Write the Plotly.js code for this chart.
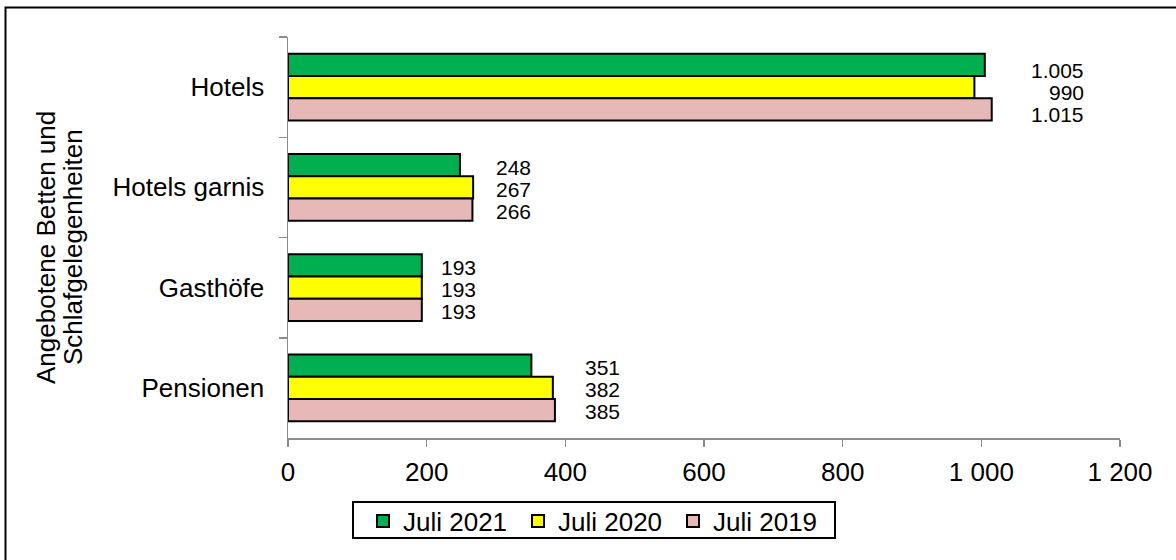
<!DOCTYPE html>
<html>
<head>
<meta charset="utf-8">
<script src="https://cdn.plot.ly/plotly-3.0.1.min.js"></script>
<style>
  html, body { margin: 0; padding: 0; background: #fff; }
  #chart { width: 1176px; height: 560px; }
</style>
</head>
<body>
<div id="chart"></div>
<script>
// ---- data ----
const categories = ["Hotels", "Hotels garnis", "Gasthöfe", "Pensionen"];
const seriesNames = ["Juli 2021", "Juli 2020", "Juli 2019"];
const juli2021 = [1005, 248, 193, 351];
const juli2020 = [990, 267, 193, 382];
const juli2019 = [1015, 266, 193, 385];
const xTickVals = [0, 200, 400, 600, 800, 1000, 1200];
const yTitleLines = ["Angebotene Betten und", "Schlafgelegenheiten"];

// ---- style ----
const colors = ["#00B050", "#FFFF00", "#E6B9B8"];
const FONT = "Liberation Sans, Arial, sans-serif";
const labelShiftX = [94, 60, 56, 67];       // px right of group max (label right edge)
const labelShiftY = [20, -2, -24];          // px per series within group
const catShiftY = [-3, 0, 0, 0];

const series = [juli2021, juli2020, juli2019];

const traces = series.map((vals, i) => ({
  type: "bar",
  orientation: "h",
  name: seriesNames[i],
  y: categories,
  x: vals,
  marker: { color: colors[i], line: { color: "#000000", width: 2 } },
  hoverinfo: "skip"
}));

function fmt(v) {
  if (v >= 1000) return Math.floor(v / 1000) + "." + String(v % 1000).padStart(3, "0");
  return String(v);
}

const annotations = [];
categories.forEach((cat, c) => {
  const gmax = Math.max(...series.map(s => s[c]));
  series.forEach((s, i) => {
    annotations.push({
      xref: "x", yref: "y",
      x: gmax, y: cat,
      xanchor: "right", yanchor: "middle",
      xshift: labelShiftX[c],
      yshift: labelShiftY[i] + catShiftY[c],
      text: fmt(s[c]),
      showarrow: false,
      font: { family: FONT, size: 21, color: "#000" }
    });
  });
});

// pixel geometry of plot area
const plotL = 288, plotW = 832, plotT = 37, plotH = 401;
const px2x = px => (px - plotL) / plotW;
const px2y = py => (plotT + plotH - py) / plotH;

// y-axis title as two annotations (tight line spacing)
const yTitleX = [46, 73];
yTitleLines.forEach((t, i) => {
  annotations.push({
    xref: "paper", yref: "paper",
    x: px2x(yTitleX[i]), y: px2y(247),
    xanchor: "center", yanchor: "middle",
    textangle: -90,
    text: t, showarrow: false,
    font: { family: FONT, size: 26, color: "#000" }
  });
});

const layout = {
  width: 1176, height: 560,
  margin: { l: plotL, r: 1176 - plotL - plotW, t: plotT, b: 560 - plotT - plotH, pad: 0 },
  paper_bgcolor: "#fff", plot_bgcolor: "#fff",
  font: { family: FONT, size: 26, color: "#000" },
  separators: ", ",
  barmode: "group",
  bargap: 0.336,
  bargroupgap: 0,
  showlegend: true,
  legend: {
    orientation: "h",
    x: px2x(363), y: px2y(521), xanchor: "left", yanchor: "middle",
    borderwidth: 0, bgcolor: "rgba(0,0,0,0)",
    font: { family: FONT, size: 26, color: "#000" },
    entrywidth: 110, entrywidthmode: "pixels",
    itemclick: false, itemdoubleclick: false
  },
  xaxis: {
    range: [0, 1200],
    tickvals: xTickVals,
    separatethousands: true,
    showgrid: false, zeroline: false,
    showline: true, linecolor: "#8C8C8C", linewidth: 1.5,
    ticks: "outside", ticklen: 7, tickwidth: 1.5, tickcolor: "#8C8C8C",
    ticklabelstandoff: 3,
    tickfont: { family: FONT, size: 26, color: "#000" },
    fixedrange: true
  },
  yaxis: {
    type: "category",
    categoryorder: "array", categoryarray: categories,
    range: [3.5, -0.5],
    showgrid: false, zeroline: false,
    showline: true, linecolor: "#8C8C8C", linewidth: 1.5,
    ticks: "outside", tickson: "boundaries", ticklen: 8, tickwidth: 1.5, tickcolor: "#8C8C8C",
    ticklabelstandoff: 17,
    tickfont: { family: FONT, size: 26, color: "#000" },
    fixedrange: true
  },
  annotations: annotations,
  shapes: [
    { // outer chart frame
      type: "rect", xref: "paper", yref: "paper",
      x0: px2x(5.5), x1: px2x(1200),
      y0: px2y(580), y1: px2y(7.5),
      line: { color: "#000", width: 2 }, fillcolor: "rgba(0,0,0,0)", layer: "below"
    },
    { // legend frame
      type: "rect", xref: "paper", yref: "paper",
      x0: px2x(353), x1: px2x(835),
      y0: px2y(538), y1: px2y(502),
      line: { color: "#000", width: 2 }, fillcolor: "rgba(0,0,0,0)", layer: "below"
    }
  ]
};

Plotly.newPlot("chart", traces, layout, { displayModeBar: false, staticPlot: true });
</script>
</body>
</html>
